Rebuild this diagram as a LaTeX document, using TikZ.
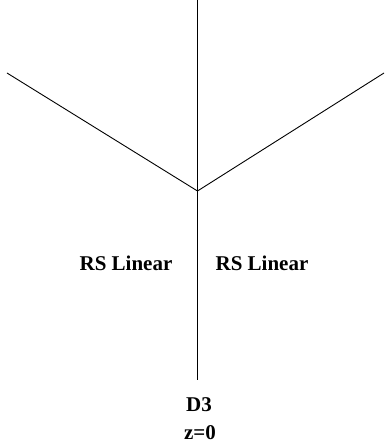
\documentclass[tikz,border=0pt]{standalone}
\usepackage{fontspec}
\setmainfont{Liberation Serif}
\usepackage{tikz}
\tikzset{brane/.style={line width=0.9pt},
	lbl/.style={font=\fontsize{21}{24}\selectfont\bfseries,inner sep=0pt}}

\begin{document}
\begin{tikzpicture}[x=1pt,y=1pt]
	\useasboundingbox (0,0) rectangle (384,445);
	\coordinate (top) at (197.5,445);
	\coordinate (mid) at (197.5,254);
	\coordinate (bot) at (197.5,65);
	\coordinate (left) at (7,372);
	\coordinate (right) at (384,372);
	\draw[brane] (top) -- (bot);
	\draw[brane] (left) -- (mid) -- (right);
	\node[lbl] (rsl) at (126,182) {RS Linear};
	\node[lbl] (rsr) at (262,182) {RS Linear};
	\node[lbl] (d3) at (199,40) {D3};
	\node[lbl] (z0) at (200,12) {z=0};
\end{tikzpicture}
\end{document}
